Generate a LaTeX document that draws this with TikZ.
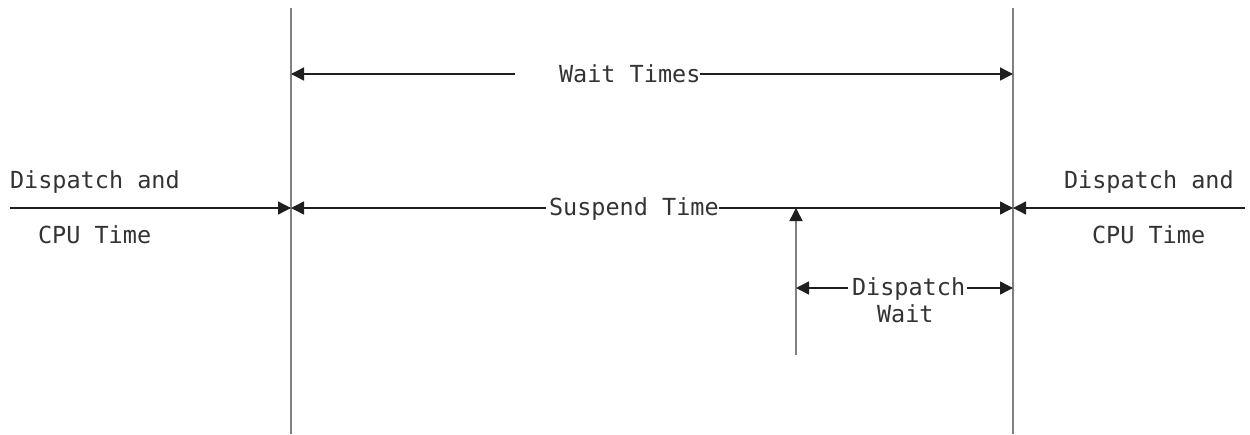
\documentclass[tikz,border=0pt]{standalone}
\usepackage{fontspec}
\setmonofont{DejaVu Sans Mono}
\usetikzlibrary{arrows.meta}
\tikzset{
  lbl/.style={inner sep=0pt, outer sep=0pt, anchor=base west, font=\ttfamily\fontsize{23.5}{26}\selectfont, text=black!80},
  vline/.style={line width=1.8pt, draw=black!50},
  hline/.style={line width=1.4pt, draw=black!88},
  tip/.style={-{Triangle[length=13pt,width=13pt]}},
}
\begin{document}
\begin{tikzpicture}[x=1pt,y=-1pt]
\useasboundingbox (0,0) rectangle (1250,434);
% vertical boundaries
\coordinate (Ltop) at (291,8);
\coordinate (Lbot) at (291,434);
\coordinate (Rtop) at (1013,8);
\coordinate (Rbot) at (1013,434);
\draw[vline] (Ltop) -- (Lbot);
\draw[vline] (Rtop) -- (Rbot);
% Wait Times
\node[lbl] (wt) at (559,82) {Wait Times};
\coordinate (wL) at (291,74);
\coordinate (wR) at (1013,74);
\coordinate (wgap) at (515,74);
\draw[hline,tip] (wgap) -- (wL);
\draw[hline,tip] (wt.east |- wR) -- (wR);
% Suspend Time
\node[lbl] (st) at (549,215) {Suspend Time};
\coordinate (sL) at (291,208);
\coordinate (sR) at (1013,208);
\draw[hline,tip] (st.west |- sL) ++(-3,0) coordinate (sLs) -- (sL);
\draw[hline,tip] (st.east |- sR) -- (sR);
% left dispatch and CPU
\node[lbl] (ld1) at (10,188) {Dispatch and};
\node[lbl] (ld2) at (38,243) {CPU Time};
\coordinate (lstart) at (10,208);
\draw[hline,tip] (lstart) -- (sL);
% right dispatch and CPU
\node[lbl] (rd1) at (1064,188) {Dispatch and};
\node[lbl] (rd2) at (1092,243) {CPU Time};
\coordinate (rstart) at (1245,208);
\draw[hline,tip] (rstart) -- (sR);
% dispatch point arrow
\coordinate (dbot) at (796,355);
\coordinate (dtop) at (796,208);
\draw[vline,line width=1.6pt,-{Triangle[length=13pt,width=13pt,fill=black!88,color=black!88]}] (dbot) -- (dtop);
% Dispatch Wait
\node[lbl] (dw1) at (852,295) {Dispatch};
\node[lbl] (dw2) at (877,322) {Wait};
\coordinate (dwL) at (796,288);
\coordinate (dwR) at (1013,288);
\draw[hline,tip] (dw1.west |- dwL) ++(-4,0) -- (dwL);
\draw[hline,tip] (dw1.east |- dwR) ++(2,0) -- (dwR);
\end{tikzpicture}
\end{document}
